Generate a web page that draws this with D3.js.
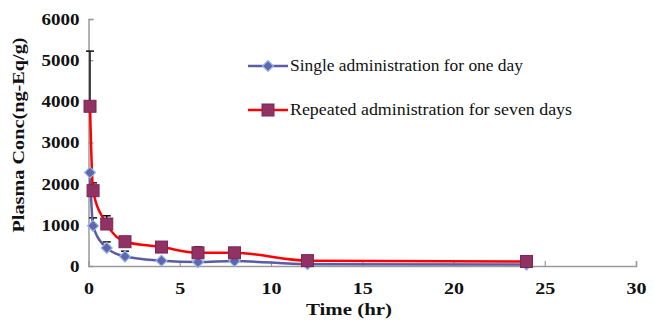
<!DOCTYPE html>
<html><head><meta charset="utf-8">
<script src="https://cdn.jsdelivr.net/npm/d3@7/dist/d3.min.js"></script>
<style>body{margin:0;background:#fff}svg{display:block}</style>
</head><body>
<svg id="c" width="654" height="320"></svg>
<script>
const times = [0.083, 0.25, 1, 2, 4, 6, 8, 12, 24];
const single = [2270, 975, 440, 230, 130, 95, 120, 45, 35];
const singleErr = [0, 195, 145, 130, 20, 20, 20, 10, 10];
const repeated = [3880, 1830, 1020, 590, 460, 320, 320, 130, 110];
const repeatedErr = [1340, 190, 200, 60, 30, 145, 30, 20, 20];
const xTicks = [0, 5, 10, 15, 20, 25, 30];
const yTicks = [0, 1000, 2000, 3000, 4000, 5000, 6000];
const seriesNames = ["Single administration for one day", "Repeated administration for seven days"];
const xTitle = "Time (hr)";
const yTitle = "Plasma Conc(ng-Eq/g)";

const svg = d3.select("#c");
const x = d3.scaleLinear().domain([0, 30]).range([88.5, 636]);
const y = d3.scaleLinear().domain([0, 6000]).range([266, 19]);
const font = "'Liberation Serif','Times New Roman',serif";

// axes
const gx = svg.append("g").attr("transform", `translate(0,${y(0)})`)
  .call(d3.axisBottom(x).tickValues(xTicks).tickSize(-5).tickPadding(16).tickFormat(d3.format("d")));
const gy = svg.append("g").attr("transform", `translate(${x(0)},0)`)
  .call(d3.axisLeft(y).tickValues(yTicks).tickSize(-5).tickPadding(9).tickFormat(d3.format("d")));
[gx, gy].forEach(g => {
  g.select(".domain").attr("stroke", "#9a9a9a").attr("stroke-width", 1.5);
  g.selectAll(".tick line").attr("stroke", "#9a9a9a").attr("stroke-width", 1.2);
  g.selectAll(".tick text").attr("font-family", font).attr("font-weight", "bold")
    .attr("font-size", 17).attr("fill", "#111");
});
gx.selectAll(".tick line").filter(d => d === 0).remove();
gy.selectAll(".tick line").filter(d => d === 0).remove();
gx.selectAll(".tick text").attr("textLength", d => String(d).length * 10).attr("lengthAdjust", "spacingAndGlyphs");
gy.selectAll(".tick text").attr("textLength", d => String(d).length * 9.5).attr("lengthAdjust", "spacingAndGlyphs");

// titles
svg.append("text").attr("x", 349).attr("y", 315).attr("text-anchor", "middle")
  .attr("font-family", font).attr("font-weight", "bold").attr("font-size", 17)
  .attr("textLength", 86).attr("lengthAdjust", "spacingAndGlyphs").attr("fill", "#111").text(xTitle);
svg.append("text").attr("transform", "translate(24,135) rotate(-90)").attr("text-anchor", "middle")
  .attr("font-family", font).attr("font-weight", "bold").attr("font-size", 17)
  .attr("textLength", 195).attr("lengthAdjust", "spacingAndGlyphs").attr("fill", "#111").text(yTitle);

const series = [
  {vals: single, err: singleErr, line: "#5b5ba6", fill: "#6464ae", stroke: "#8ebbe8", shape: "diamond"},
  {vals: repeated, err: repeatedErr, line: "#ff0000", fill: "#913265", stroke: "#7d2556", shape: "square"}
];

// error bars
series.forEach(s => {
  const eb = svg.append("g").attr("stroke", "#111").attr("stroke-width", 1.5);
  times.forEach((t, i) => {
    if (!s.err[i]) return;
    const cx = x(t), y1 = y(s.vals[i]), y2 = y(s.vals[i] + s.err[i]);
    eb.append("line").attr("x1", cx).attr("x2", cx).attr("y1", y1).attr("y2", y2);
    eb.append("line").attr("x1", cx - 4).attr("x2", cx + 4).attr("y1", y2).attr("y2", y2);
  });
});

// lines
const lineGen = d3.line().curve(d3.curveMonotoneX);
series.forEach(s => {
  svg.append("path").attr("d", lineGen(times.map((t, i) => [x(t), y(s.vals[i])])))
    .attr("fill", "none").attr("stroke", s.line).attr("stroke-width", 2.5);
});

function marker(g, shape, cx, cy, s) {
  if (shape === "diamond") {
    g.append("path").attr("d", `M${cx},${cy-5.5}L${cx+5.5},${cy}L${cx},${cy+5.5}L${cx-5.5},${cy}Z`)
      .attr("fill", s.fill).attr("stroke", s.stroke).attr("stroke-width", 1.2);
  } else {
    g.append("rect").attr("x", cx - 6).attr("y", cy - 6).attr("width", 12).attr("height", 12)
      .attr("fill", s.fill).attr("stroke", s.stroke).attr("stroke-width", 1);
  }
}
series.forEach(s => {
  const g = svg.append("g");
  times.forEach((t, i) => marker(g, s.shape, x(t), y(s.vals[i]), s));
});

// legend
const legY = [66, 110];
series.forEach((s, i) => {
  const g = svg.append("g");
  g.append("line").attr("x1", 248).attr("x2", 288).attr("y1", legY[i]).attr("y2", legY[i])
    .attr("stroke", s.line).attr("stroke-width", 2.5);
  marker(g, s.shape, 268, legY[i], s);
  g.append("text").attr("x", 290).attr("y", legY[i] + 5).attr("font-family", font)
    .attr("font-size", 16).attr("fill", "#111")
    .attr("textLength", i === 0 ? 233 : 282).attr("lengthAdjust", "spacingAndGlyphs")
    .text(seriesNames[i]);
});
</script>
</body></html>
